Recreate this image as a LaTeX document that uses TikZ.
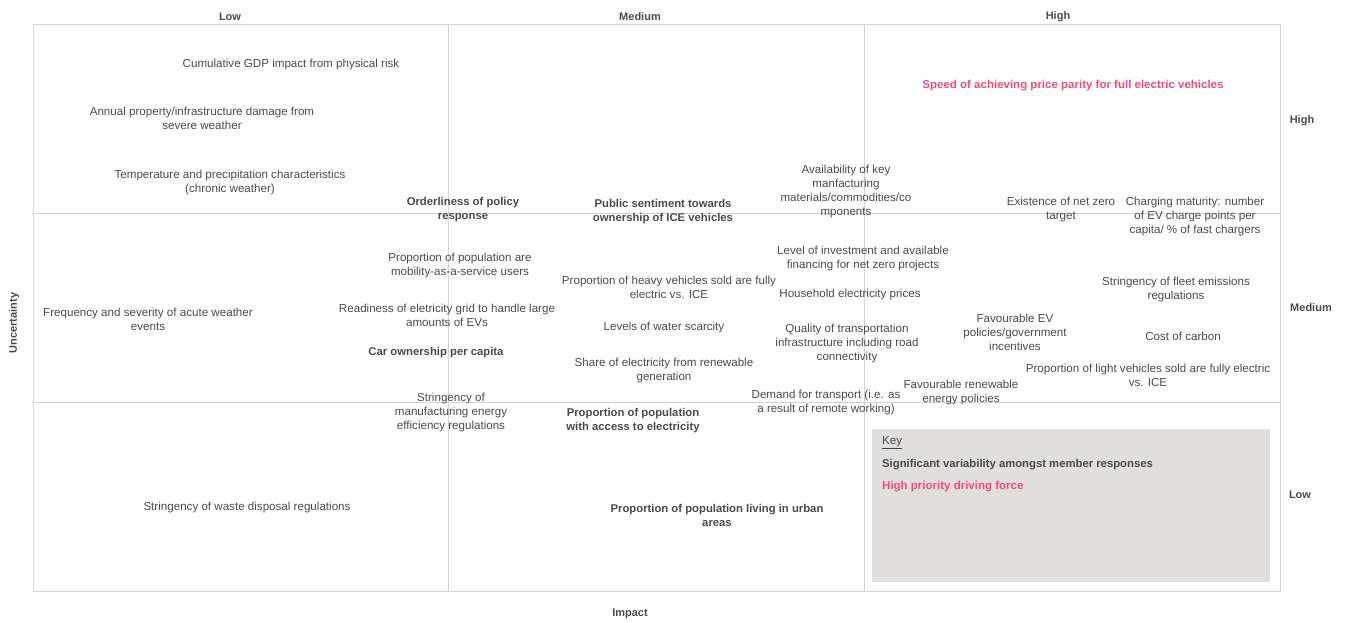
\documentclass[tikz,border=0pt]{standalone}
\usepackage{fontspec}
\setmainfont{Liberation Sans}
\definecolor{ink}{HTML}{4A4A4A}
\definecolor{gridc}{HTML}{D2D2D2}
\definecolor{pinkc}{HTML}{EE4D7A}
\definecolor{keyfill}{HTML}{E0DFDE}
\tikzset{
  item/.style={text=ink, align=center, inner sep=0pt, yshift=-1pt, font=\fontsize{11.6}{14}\selectfont},
  bitem/.style={item, font=\fontsize{11.3}{14}\selectfont\bfseries},
  hitem/.style={item, text=pinkc, font=\fontsize{11.5}{14}\selectfont\bfseries},
  axislbl/.style={text=ink, inner sep=0pt, font=\fontsize{11}{12}\selectfont\bfseries},
  gridline/.style={draw=gridc, line width=1pt},
}
\begin{document}
\begin{tikzpicture}[x=1pt,y=-1pt]
\useasboundingbox (0,0) rectangle (1347,622);
% matrix frame and dividers
\draw[gridline] (33,24) rectangle (1280,591);
\draw[gridline] (448,24) -- (448,591);
\draw[gridline] (864,24) -- (864,591);
\draw[gridline] (33,213) -- (1280,213);
\draw[gridline] (33,402) -- (1280,402);
% legend panel
\fill[keyfill] (872,429) rectangle (1270,582);
\node[item, anchor=west] (keyhead) at (882,442) {\underline{Key}};
\node[bitem, anchor=west] (keyvar) at (882,464) {Significant variability amongst member responses};
\node[hitem, anchor=west] (keyprio) at (882,486) {High priority driving force};
% axis labels
\node[axislbl] (impLow) at (230,16.5) {Low};
\node[axislbl] (impMed) at (640,16.5) {Medium};
\node[axislbl] (impHigh) at (1058,16.5) {High};
\node[axislbl] (uncHigh) at (1302,121) {High};
\node[axislbl] (uncMed) at (1311,308) {Medium};
\node[axislbl] (uncLow) at (1300,495) {Low};
\node[axislbl, rotate=90] (uncAxis) at (14,323) {Uncertainty};
\node[axislbl] (impAxis) at (630,614) {Impact};
% driving forces
\node[item] (gdp) at (291,63) {Cumulative GDP impact from physical risk};
\node[item] (damage) at (202,117) {Annual property/infrastructure damage from\\severe weather};
\node[item] (temp) at (230,181) {Temperature and precipitation characteristics\\(chronic weather)};
\node[item] (acute) at (148,318) {Frequency and severity of acute weather\\events};
\node[item] (waste) at (247,506) {Stringency of waste disposal regulations};
\node[bitem] (order) at (463,209) {Orderliness of policy\\response};
\node[bitem] (sentiment) at (663,211) {Public sentiment towards\\ownership of ICE vehicles};
\node[item] (materials) at (846,190) {Availability of key\\manfacturing\\materials/commodities/co\\mponents};
\node[item] (netzero) at (1061,208) {Existence of net zero\\target};
\node[item] (charging) at (1195,215) {Charging maturity: number\\of EV charge points per\\capita/ \% of fast chargers};
\node[item] (maas) at (460,264) {Proportion of population are\\mobility-as-a-service users};
\node[item] (invest) at (863,257) {Level of investment and available\\financing for net zero projects};
\node[item] (heavy) at (669,286) {Proportion of heavy vehicles sold are fully\\electric vs. ICE};
\node[item] (household) at (850,293) {Household electricity prices};
\node[item] (fleet) at (1176,288) {Stringency of fleet emissions\\regulations};
\node[item] (grid) at (447,314) {Readiness of eletricity grid to handle large\\amounts of EVs};
\node[item] (water) at (664,326) {Levels of water scarcity};
\node[item] (evpol) at (1015,331) {Favourable EV\\policies/government\\incentives};
\node[item] (carbon) at (1183,335) {Cost of carbon};
\node[item] (transport) at (847,342) {Quality of transportation\\infrastructure including road\\connectivity};
\node[bitem] (carown) at (436,352) {Car ownership per capita};
\node[item] (renew) at (664,369) {Share of electricity from renewable\\generation};
\node[item] (light) at (1148,374) {Proportion of light vehicles sold are fully electric\\vs. ICE};
\node[item] (renpol) at (961,391) {Favourable renewable\\energy policies};
\node[item] (demand) at (826,401) {Demand for transport (i.e. as\\a result of remote working)};
\node[item] (mfg) at (451,411) {Stringency of\\manufacturing energy\\efficiency regulations};
\node[bitem] (access) at (633,420) {Proportion of population\\with access to electricity};
\node[bitem] (urban) at (717,514) {Proportion of population living in urban\\areas};
\node[hitem] (parity) at (1073,85) {Speed of achieving price parity for full electric vehicles};
\end{tikzpicture}
\end{document}
